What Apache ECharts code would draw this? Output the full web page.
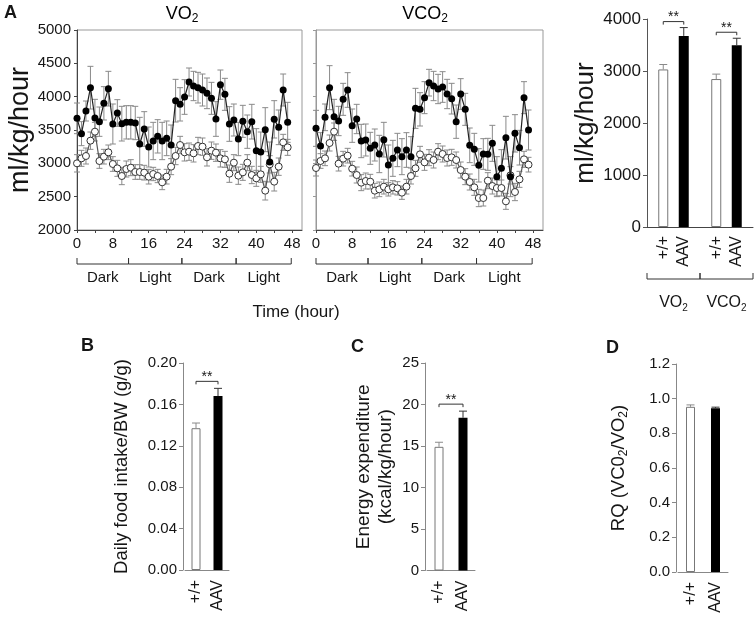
<!DOCTYPE html>
<html><head><meta charset="utf-8">
<script src="https://cdn.jsdelivr.net/npm/echarts@6/dist/echarts.min.js"></script>
<style>html,body{margin:0;padding:0;background:#fff}#c{width:755px;height:633px}</style>
</head><body><div id="c"></div>
<script>
// ---------------- data ----------------
const hours = [0,1,2,3,4,5,6,7,8,9,10,11,12,13,14,15,16,17,18,19,20,21,22,23,24,25,26,27,28,29,30,31,32,33,34,35,36,37,38,39,40,41,42,43,44,45,46,47];
const lineYTicks = [2000,2500,3000,3500,4000,4500,5000];
const hourTicks = [0,8,16,24,32,40,48];
const periods = ['Dark','Light','Dark','Light'];
const periodBounds = [0, 11.5, 23.4, 35.5, 47.8];

const vo2AAV = [3675,3445,3785,4135,3680,3625,3900,4120,3590,3755,3595,3615,3615,3605,3290,3515,3245,3335,3405,3335,3375,3275,3940,3885,3995,4220,4160,4135,4100,4050,3975,3665,4180,4035,3590,3650,3365,3630,3475,3625,3190,3170,3505,3020,3660,3540,4100,3615];
const vo2AAVErr = [230,180,150,320,280,220,250,260,300,200,260,250,250,250,400,260,300,280,250,280,260,300,320,250,260,210,220,230,240,230,240,260,220,240,260,240,250,240,250,260,330,300,330,300,280,260,240,300];
const vo2WT = [3000,3075,3110,3340,3475,3035,3100,3165,2990,2925,2810,2915,2935,2870,2870,2860,2800,2840,2810,2715,2800,2950,3110,3275,3165,3175,3150,3260,3250,3090,3190,3160,3075,3060,2845,3010,2815,2865,3010,2825,2775,2835,2590,2985,2725,2950,3315,3240];
const vo2WTErr = [130,120,120,130,140,110,110,110,110,120,130,120,120,110,110,110,110,100,100,110,110,120,130,130,130,130,130,130,130,130,130,130,130,120,130,120,130,120,120,130,120,120,140,130,140,130,120,120];

const vco2AAV = [3525,3260,3690,4135,3700,3635,3960,4100,3565,3665,3335,3350,3225,3275,3140,3355,2975,3075,3200,3100,3200,3100,3825,3810,3985,4210,4160,4115,4145,4040,3970,3625,4040,3810,3270,3210,2970,3140,3135,3300,2800,2925,3385,2800,3450,3235,3985,3500];
const vco2AAVErr = [270,200,200,330,260,220,240,260,250,220,250,240,240,240,280,260,300,270,250,270,260,300,300,250,240,200,220,220,230,220,230,250,230,240,260,240,250,230,240,270,300,280,320,300,280,260,240,300];
const vco2WT = [2930,3035,3075,3305,3475,2995,3070,3115,2920,2825,2710,2735,2725,2590,2610,2650,2610,2640,2625,2560,2650,2810,2925,3135,3015,3085,3050,3175,3140,3080,3090,3050,2900,2800,2720,2640,2480,2480,2740,2660,2630,2630,2430,2820,2570,2760,3060,2980];
const vco2WTErr = [120,110,110,120,130,110,110,110,110,120,120,120,110,110,110,110,100,100,100,100,110,120,120,120,120,120,120,120,120,120,120,120,120,120,120,120,130,120,120,120,120,120,120,130,130,120,120,110];

const genotypes = ['+/+','AAV'];
const gasGroups = ['VO2','VCO2'];
const gasTicks = [0,1000,2000,3000,4000];
const gasWT = [3030, 2845];
const gasWTErr = [95, 95];
const gasAAV = [3675, 3495];
const gasAAVErr = [160, 135];
const gasSig = ['**','**'];

const foodTicks = [0,0.04,0.08,0.12,0.16,0.20];
const foodVals = [0.137, 0.168];
const foodErr = [0.005, 0.0075];
const foodSig = '**';

const eeTicks = [0,5,10,15,20,25];
const eeVals = [14.9, 18.4];
const eeErr = [0.55, 0.8];
const eeSig = '**';

const rqTicks = [0,0.2,0.4,0.6,0.8,1.0,1.2];
const rqVals = [0.953, 0.945];
const rqErr = [0.011, 0.006];
const rqSig = '';

// ---------------- styles ----------------
const FF = '"Liberation Sans", Arial, sans-serif';
const TXT = '#161616';
const ERR = '#8a8a8a';
const subRich = (fs, lh) => ({ n: {fontSize: fs, lineHeight: lh, fontFamily: FF, color: TXT},
                               s: {fontSize: Math.round(fs*0.65), lineHeight: 10, verticalAlign: 'bottom', fontFamily: FF, color: TXT} });
const GAS_BW = 10, GAS_GAP = 1.05;
const gasOff = GAS_BW/2 + GAS_BW*GAS_GAP/2;

function ticksAxis(t) { return {min: t[0], max: t[t.length-1], interval: t[1]-t[0]}; }

// ---------------- render helpers ----------------
function lineErr(color) {
  return function(params, api) {
    const x = api.value(0), y = api.value(1), e = api.value(2);
    const hi = api.coord([x, y+e]), lo = api.coord([x, y-e]);
    const st = {stroke: color, lineWidth: 1};
    return {type: 'group', children: [
      {type: 'line', shape: {x1: hi[0], y1: hi[1], x2: lo[0], y2: lo[1]}, style: st},
      {type: 'line', shape: {x1: hi[0]-3, y1: hi[1], x2: hi[0]+3, y2: hi[1]}, style: st},
      {type: 'line', shape: {x1: lo[0]-3, y1: lo[1], x2: lo[0]+3, y2: lo[1]}, style: st}
    ]};
  };
}
function periodItem(params, api) {
  const s = api.value(0), ymin = api.value(1), e = api.value(2);
  const p0 = api.coord([s, ymin]), p1 = api.coord([e, ymin]);
  const y = p0[1] + 34;
  const st = {stroke: '#333', lineWidth: 1};
  return {type: 'group', children: [
    {type: 'line', shape: {x1: p0[0], y1: y, x2: p1[0], y2: y}, style: st},
    {type: 'line', shape: {x1: p0[0], y1: y-6, x2: p0[0], y2: y}, style: st},
    {type: 'line', shape: {x1: p1[0], y1: y-6, x2: p1[0], y2: y}, style: st},
    {type: 'text', x: (p0[0]+p1[0])/2, y: y+14, style: {text: periods[params.dataIndex], align: 'center', verticalAlign: 'middle', font: '15px ' + FF, fill: TXT}}
  ]};
}
function gasAnnot(params, api) {
  const g = api.value(0);
  const bw = api.size([1, 0])[0];
  const base = api.coord([g, 0]);
  const xs = [base[0]-gasOff, base[0]+gasOff];
  const vals = [api.value(1), api.value(3)], errs = [api.value(2), api.value(4)];
  const ch = [];
  for (let k = 0; k < 2; k++) {
    const b = api.coord([g, vals[k]]), t = api.coord([g, vals[k]+errs[k]]);
    const st = {stroke: k ? '#333' : ERR, lineWidth: 1};
    ch.push({type: 'line', shape: {x1: xs[k], y1: b[1], x2: xs[k], y2: t[1]}, style: st});
    ch.push({type: 'line', shape: {x1: xs[k]-4, y1: t[1], x2: xs[k]+4, y2: t[1]}, style: st});
    ch.push({type: 'text', x: xs[k], y: base[1]+9, rotation: Math.PI/2,
      style: {text: genotypes[k], align: 'right', verticalAlign: 'middle', font: '16px ' + FF, fill: TXT}});
  }
  const sig = gasSig[params.dataIndex];
  if (sig) {
    const yTop = api.coord([g, vals[1]+errs[1]])[1] - 6;
    ch.push({type: 'polyline', shape: {points: [[xs[0], yTop+3], [xs[0], yTop], [xs[1], yTop], [xs[1], yTop+3]]}, style: {stroke: '#333', fill: null, lineWidth: 1}});
    ch.push({type: 'text', x: (xs[0]+xs[1])/2, y: yTop-4, style: {text: sig, align: 'center', verticalAlign: 'middle', font: '14px ' + FF, fill: TXT}});
  }
  const yb = base[1] + 52, x0 = base[0]-bw/2, x1 = base[0]+bw/2;
  const st2 = {stroke: '#333', lineWidth: 1};
  ch.push({type: 'line', shape: {x1: x0, y1: yb, x2: x1, y2: yb}, style: st2});
  ch.push({type: 'line', shape: {x1: x0, y1: yb-6, x2: x0, y2: yb}, style: st2});
  ch.push({type: 'line', shape: {x1: x1, y1: yb-6, x2: x1, y2: yb}, style: st2});
  return {type: 'group', children: ch};
}
function smallAnnot(sig) {
  return function(params, api) {
    const ch = [];
    const v0 = api.value(0), e0 = api.value(1), v1 = api.value(2), e1 = api.value(3);
    const vals = [v0, v1], errs = [e0, e1], xs = [];
    for (let k = 0; k < 2; k++) {
      const b = api.coord([k, vals[k]]), t = api.coord([k, vals[k]+errs[k]]);
      xs.push(b[0]);
      const st = {stroke: k ? '#333' : ERR, lineWidth: 1};
      ch.push({type: 'line', shape: {x1: b[0], y1: b[1], x2: b[0], y2: t[1]}, style: st});
      ch.push({type: 'line', shape: {x1: b[0]-4, y1: t[1], x2: b[0]+4, y2: t[1]}, style: st});
    }
    if (sig) {
      const yTop = api.coord([1, v1+e1])[1] - 7;
      ch.push({type: 'polyline', shape: {points: [[xs[0], yTop+3], [xs[0], yTop], [xs[1], yTop], [xs[1], yTop+3]]}, style: {stroke: '#333', fill: null, lineWidth: 1}});
      ch.push({type: 'text', x: (xs[0]+xs[1])/2, y: yTop-4, style: {text: sig, align: 'center', verticalAlign: 'middle', font: '14px ' + FF, fill: TXT}});
    }
    return {type: 'group', children: ch};
  };
}

// ---------------- option ----------------
const pts = (vals) => hours.map((h, i) => [h, vals[i]]);
const errPts = (vals, errs) => hours.map((h, i) => [h, vals[i], errs[i]]);
const periodData = periods.map((p, i) => [periodBounds[i], lineYTicks[0], periodBounds[i+1]]);

const lineX = (gi) => ({gridIndex: gi, type: 'value', min: 0, max: 50.2, interval: 4,
  axisLine: {lineStyle: {color: '#444', width: 1}},
  axisTick: {inside: false, length: 3, lineStyle: {color: '#444'}},
  axisLabel: {margin: 6, fontSize: 15, color: TXT, fontFamily: FF, showMaxLabel: false,
    formatter: v => hourTicks.indexOf(v) >= 0 ? String(v) : ''},
  splitLine: {show: false}});
const lineY = (gi, showLabel, col) => Object.assign({gridIndex: gi, type: 'value'}, ticksAxis(lineYTicks), {
  axisLine: {show: true, lineStyle: {color: col, width: 1}},
  axisTick: {show: true, inside: false, length: 3, lineStyle: {color: col}},
  axisLabel: {show: showLabel, margin: 6, fontSize: 15, color: TXT, fontFamily: FF, formatter: v => String(v)},
  splitLine: {show: false}});

const smallY = (gi, ticks, dec, name, gap, nameStyle) => Object.assign({gridIndex: gi, type: 'value', offset: 2}, ticksAxis(ticks), {
  axisLine: {show: true, lineStyle: {color: '#888'}},
  axisTick: {show: true, inside: false, length: 4, lineStyle: {color: '#888'}},
  axisLabel: {margin: 6, fontSize: 15, color: TXT, fontFamily: FF, formatter: v => v.toFixed(dec)},
  splitLine: {show: false},
  name: name, nameLocation: 'middle', nameGap: gap, nameRotate: 90,
  nameTextStyle: Object.assign({fontSize: 18.5, color: TXT, fontFamily: FF, lineHeight: 22}, nameStyle || {})});
const smallX = (gi) => ({gridIndex: gi, type: 'category', data: genotypes,
  axisLine: {lineStyle: {color: '#888'}}, axisTick: {show: false},
  axisLabel: {rotate: 90, margin: 10, fontSize: 16, color: TXT, fontFamily: FF, interval: 0}});
const smallBar = (gi, vals) => ({type: 'bar', xAxisIndex: gi, yAxisIndex: gi, barWidth: 9,
  data: vals.map((v, i) => ({value: v, itemStyle: i ? {color: '#000'} : {color: '#fff', borderColor: '#777', borderWidth: 1}}))});

const option = {
  animation: false,
  backgroundColor: '#fff',
  textStyle: {fontFamily: FF},
  grid: [
    {left: 77, top: 30, width: 225, height: 200, show: true, borderColor: '#999', borderWidth: 1, backgroundColor: 'transparent', outerBoundsMode: 'none'},
    {left: 316, top: 30, width: 227, height: 200, show: true, borderColor: '#999', borderWidth: 1, backgroundColor: 'transparent', outerBoundsMode: 'none'},
    {left: 647, top: 19, width: 106, height: 208, outerBoundsMode: 'none'},
    {left: 185, top: 363, width: 44, height: 207, outerBoundsMode: 'none'},
    {left: 427, top: 363, width: 48, height: 207.5, outerBoundsMode: 'none'},
    {left: 678, top: 364, width: 50, height: 208, outerBoundsMode: 'none'}
  ],
  xAxis: [
    lineX(0), lineX(1),
    {gridIndex: 2, type: 'category', data: gasGroups,
      axisLine: {lineStyle: {color: '#444'}}, axisTick: {show: false},
      axisLabel: {margin: 66, fontSize: 16, color: TXT, fontFamily: FF, lineHeight: 20, interval: 0, hideOverlap: false,
        formatter: v => '{n|' + v.replace(/2$/, '') + '}{s|2}', rich: subRich(16, 20)}},
    smallX(3), smallX(4), smallX(5)
  ],
  yAxis: [
    Object.assign(lineY(0, true, '#444'), {name: 'ml/kg/hour', nameLocation: 'middle', nameGap: 35,
      nameTextStyle: {fontSize: 27, color: TXT, fontFamily: FF}}),
    lineY(1, false, '#999'),
    Object.assign({gridIndex: 2, type: 'value'}, ticksAxis(gasTicks), {
      axisLine: {show: true, lineStyle: {color: '#555'}},
      axisTick: {show: true, inside: false, length: 4, lineStyle: {color: '#555'}},
      axisLabel: {margin: 6, fontSize: 17, color: TXT, fontFamily: FF, formatter: v => String(v)},
      splitLine: {show: false},
      name: 'ml/kg/hour', nameLocation: 'middle', nameGap: 39,
      nameTextStyle: {fontSize: 26, color: TXT, fontFamily: FF}}),
    smallY(3, foodTicks, 2, 'Daily food intake/BW (g/g)', 50),
    smallY(4, eeTicks, 0, 'Energy expenditure\n(kcal/kg/hour)', 28, {fontSize: 19}),
    smallY(5, rqTicks, 1, 'RQ (VC0{s|2}/VO{s|2})', 46, {rich: subRich(18.5, 22)})
  ],
  series: [
    // VO2 panel
    {type: 'custom', xAxisIndex: 0, yAxisIndex: 0, renderItem: lineErr(ERR), data: errPts(vo2AAV, vo2AAVErr), z: 1},
    {type: 'custom', xAxisIndex: 0, yAxisIndex: 0, renderItem: lineErr(ERR), data: errPts(vo2WT, vo2WTErr), z: 1},
    {type: 'line', xAxisIndex: 0, yAxisIndex: 0, data: pts(vo2WT), symbol: 'circle', symbolSize: 7,
      itemStyle: {color: '#fff', borderColor: '#333', borderWidth: 1}, lineStyle: {color: '#555', width: 1.2}, z: 3},
    {type: 'line', xAxisIndex: 0, yAxisIndex: 0, data: pts(vo2AAV), symbol: 'circle', symbolSize: 7,
      itemStyle: {color: '#000', borderColor: '#000', borderWidth: 0}, lineStyle: {color: '#222', width: 1.2}, z: 4},
    {type: 'custom', xAxisIndex: 0, yAxisIndex: 0, renderItem: periodItem, data: periodData, clip: false, z: 5},
    // VCO2 panel
    {type: 'custom', xAxisIndex: 1, yAxisIndex: 1, renderItem: lineErr(ERR), data: errPts(vco2AAV, vco2AAVErr), z: 1},
    {type: 'custom', xAxisIndex: 1, yAxisIndex: 1, renderItem: lineErr(ERR), data: errPts(vco2WT, vco2WTErr), z: 1},
    {type: 'line', xAxisIndex: 1, yAxisIndex: 1, data: pts(vco2WT), symbol: 'circle', symbolSize: 7,
      itemStyle: {color: '#fff', borderColor: '#333', borderWidth: 1}, lineStyle: {color: '#555', width: 1.2}, z: 3},
    {type: 'line', xAxisIndex: 1, yAxisIndex: 1, data: pts(vco2AAV), symbol: 'circle', symbolSize: 7,
      itemStyle: {color: '#000', borderColor: '#000', borderWidth: 0}, lineStyle: {color: '#222', width: 1.2}, z: 4},
    {type: 'custom', xAxisIndex: 1, yAxisIndex: 1, renderItem: periodItem, data: periodData, clip: false, z: 5},
    // A right bars
    {type: 'bar', xAxisIndex: 2, yAxisIndex: 2, name: '+/+', data: gasWT, barWidth: GAS_BW, barGap: (GAS_GAP*100) + '%',
      itemStyle: {color: '#fff', borderColor: '#777', borderWidth: 1}},
    {type: 'bar', xAxisIndex: 2, yAxisIndex: 2, name: 'AAV', data: gasAAV, barWidth: GAS_BW, barGap: (GAS_GAP*100) + '%',
      itemStyle: {color: '#000'}},
    {type: 'custom', xAxisIndex: 2, yAxisIndex: 2, renderItem: gasAnnot, clip: false, z: 5,
      data: gasGroups.map((g, i) => [i, gasWT[i], gasWTErr[i], gasAAV[i], gasAAVErr[i]])},
    // B, C, D
    smallBar(3, foodVals),
    {type: 'custom', xAxisIndex: 3, yAxisIndex: 3, renderItem: smallAnnot(foodSig), clip: false, z: 5,
      data: [[foodVals[0], foodErr[0], foodVals[1], foodErr[1]]], encode: {x: -1, y: 0}},
    smallBar(4, eeVals),
    {type: 'custom', xAxisIndex: 4, yAxisIndex: 4, renderItem: smallAnnot(eeSig), clip: false, z: 5,
      data: [[eeVals[0], eeErr[0], eeVals[1], eeErr[1]]], encode: {x: -1, y: 0}},
    smallBar(5, rqVals),
    {type: 'custom', xAxisIndex: 5, yAxisIndex: 5, renderItem: smallAnnot(rqSig), clip: false, z: 5,
      data: [[rqVals[0], rqErr[0], rqVals[1], rqErr[1]]], encode: {x: -1, y: 0}}
  ],
  graphic: [
    {type: 'text', x: 4, y: 4, style: {text: 'A', font: 'bold 18px ' + FF, fill: TXT}},
    {type: 'text', x: 182, y: 14, style: {text: '{n|VO}{s|2}', rich: subRich(18, 22), align: 'center', verticalAlign: 'middle'}},
    {type: 'text', x: 425, y: 14, style: {text: '{n|VCO}{s|2}', rich: subRich(18, 22), align: 'center', verticalAlign: 'middle'}},
    {type: 'text', x: 296, y: 312, style: {text: 'Time (hour)', font: '17px ' + FF, fill: TXT, align: 'center', verticalAlign: 'middle'}},
    {type: 'text', x: 81, y: 337, style: {text: 'B', font: 'bold 18px ' + FF, fill: TXT}},
    {type: 'text', x: 351, y: 338, style: {text: 'C', font: 'bold 18px ' + FF, fill: TXT}},
    {type: 'text', x: 606, y: 339, style: {text: 'D', font: 'bold 18px ' + FF, fill: TXT}}
  ]
};

const chart = echarts.init(document.getElementById('c'), null, {renderer: 'canvas', width: 755, height: 633});
chart.setOption(option);
</script>
</body></html>
